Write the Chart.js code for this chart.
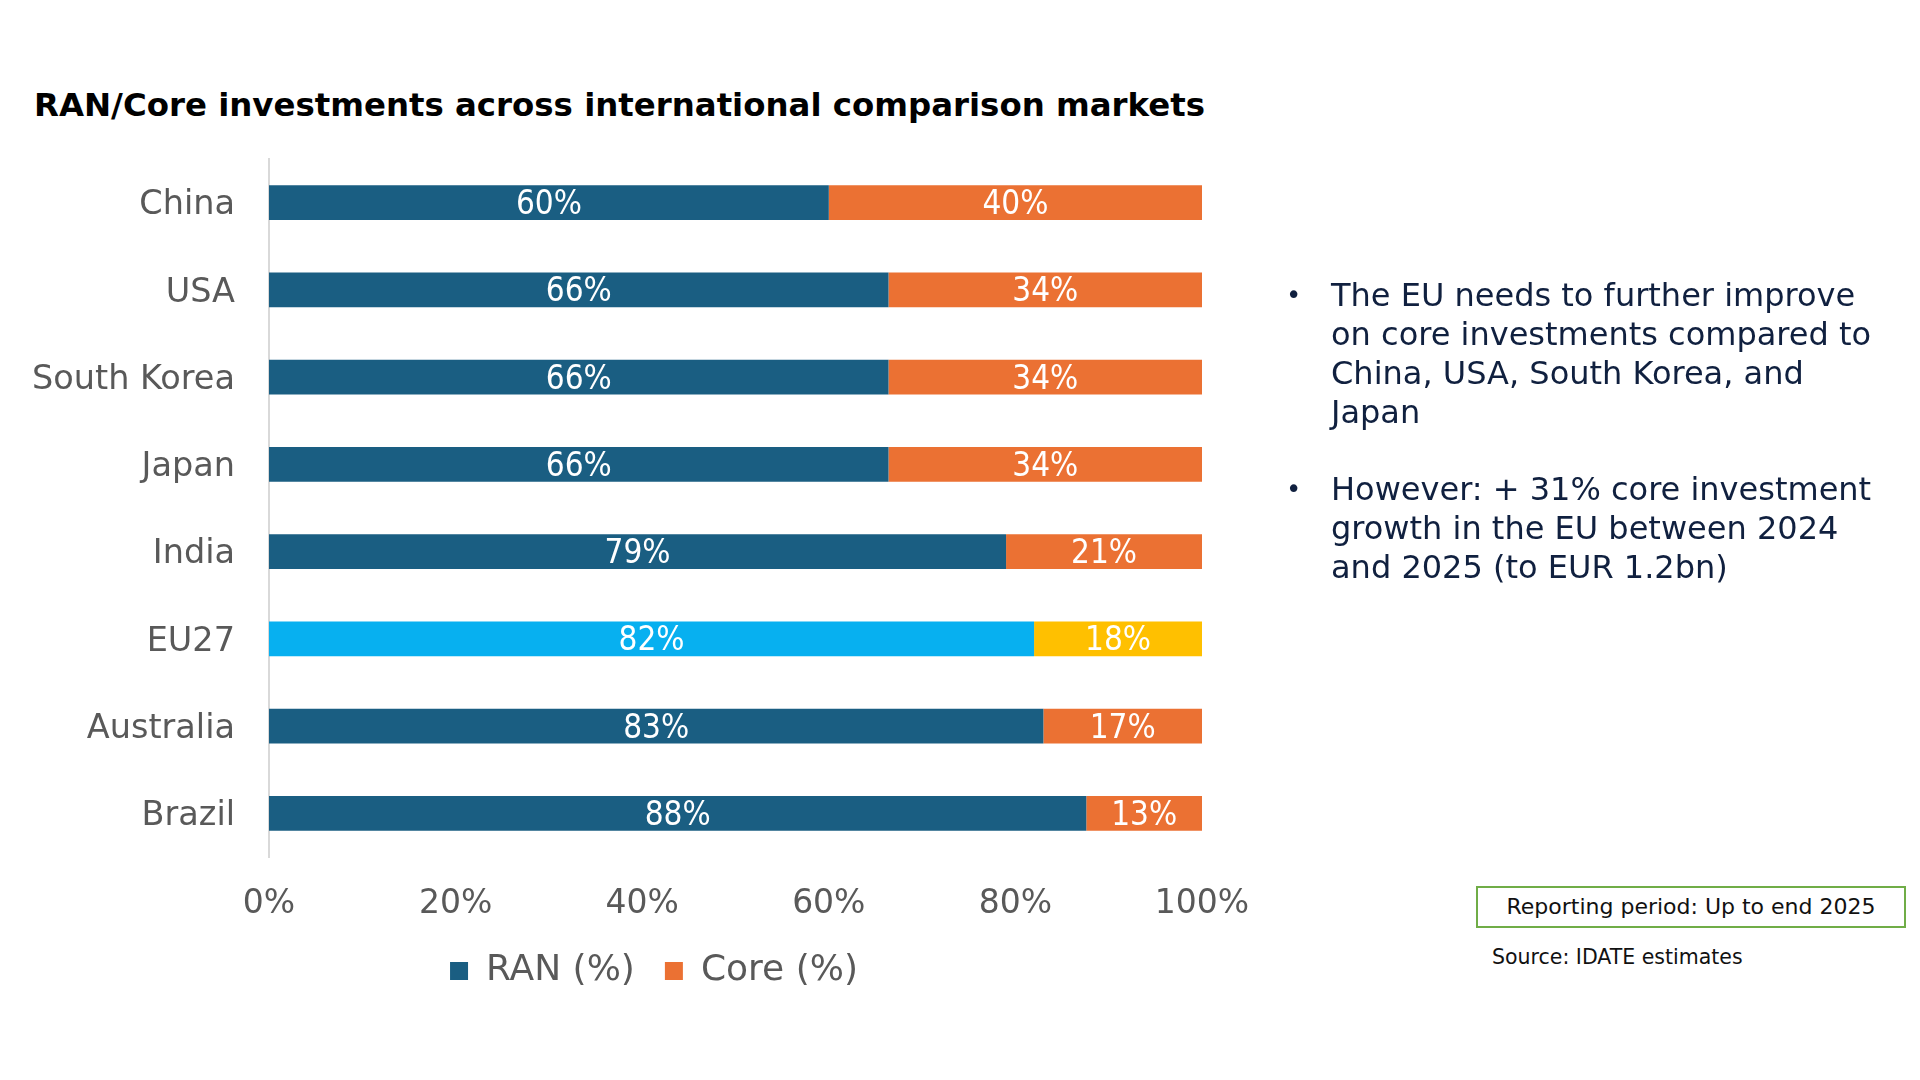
<!DOCTYPE html>
<html>
<head>
<meta charset="utf-8">
<script src="https://cdn.jsdelivr.net/npm/chart.js@4.4.1/dist/chart.umd.min.js"></script>
<style>
  html, body { margin: 0; padding: 0; background: #fff; }
  body { width: 1920px; height: 1080px; position: relative; overflow: hidden; font-family: "DejaVu Sans", Verdana, sans-serif; }
  #title { position: absolute; left: 34px; top: 88px; font-size: 32.4px; font-weight: bold; color: #000; line-height: 34px; white-space: nowrap; }
  #chartBox { position: absolute; left: 0; top: 0; width: 1304px; height: 999px; }
  .bullet { position: absolute; left: 1286px; font-size: 32px; line-height: 39px; color: #10203f; }
  .bullet .dot { position: absolute; left: 0; top: 0; font-size: 26px; }
  .bullet .txt { position: absolute; left: 45px; top: 0; white-space: nowrap; }
  #period { position: absolute; left: 1476px; top: 886px; width: 426px; height: 38px; border: 2px solid #70ad47; font-size: 22px; line-height: 38px; text-align: center; color: #111; }
  #source { position: absolute; left: 1492px; top: 945px; font-size: 20.5px; color: #111; white-space: nowrap; }
</style>
</head>
<body>
<div id="title">RAN/Core investments across international comparison markets</div>
<div id="chartBox"><canvas id="chartInvest" width="1304" height="999"></canvas></div>

<div class="bullet" style="top:276px;">
  <span class="dot">•</span>
  <span class="txt">The EU needs to further improve<br>on core investments compared to<br>China, USA, South Korea, and<br>Japan</span>
</div>
<div class="bullet" style="top:470px;">
  <span class="dot">•</span>
  <span class="txt">However: + 31% core investment<br>growth in the EU between 2024<br>and 2025 (to EUR 1.2bn)</span>
</div>

<div id="period">Reporting period: Up to end 2025</div>
<div id="source">Source: IDATE estimates</div>

<script>
// Dados do gráfico (rótulos arredondados)
const paises = ['China', 'USA', 'South Korea', 'Japan', 'India', 'EU27', 'Australia', 'Brazil'];
const ranPct = [60, 66.4, 66.4, 66.4, 79, 82, 83, 87.6];
const corePct = [40, 33.6, 33.6, 33.6, 21, 18, 17, 12.5];
const ticksX = [0, 20, 40, 60, 80, 100];
const destaque = 'EU27';

// Cores
const corRan = '#1a5e82';
const corCore = '#eb7133';
const corRanDestaque = '#07b0f0';
const corCoreDestaque = '#ffc000';
const corTexto = '#595959';

Chart.defaults.font.family = '"DejaVu Sans", Verdana, sans-serif';
Chart.defaults.color = corTexto;

// rótulos brancos no meio de cada segmento
const rotulosBarras = {
    id: 'rotulosBarras',
    afterDatasetsDraw(chart) {
        const ctx = chart.ctx;
        ctx.save();
        ctx.font = '33px "DejaVu Sans Condensed", "Liberation Sans Narrow", "DejaVu Sans", sans-serif';
        ctx.fillStyle = '#ffffff';
        ctx.textAlign = 'center';
        ctx.textBaseline = 'middle';
        chart.data.datasets.forEach((ds, i) => {
            chart.getDatasetMeta(i).data.forEach((bar, j) => {
                const x = (bar.x + Math.min(bar.base, chart.chartArea.right)) / 2;
                const xFim = Math.min(bar.x, chart.chartArea.right);
                ctx.fillText(Math.round(ds.data[j]) + '%', (xFim + bar.base) / 2, bar.y + 3);
            });
        });
        ctx.restore();
    }
};

// legenda centrada um pouco mais à direita, como no original
const deslocaLegenda = {
    id: 'deslocaLegenda',
    afterLayout(chart) {
        chart.legend.left += 53;
        chart.legend.right += 53;
    }
};

const ctx = document.getElementById('chartInvest').getContext('2d');
new Chart(ctx, {
    type: 'bar',
    data: {
        labels: paises,
        datasets: [
            {
                label: 'RAN (%)',
                data: ranPct,
                backgroundColor: paises.map(p => p === destaque ? corRanDestaque : corRan),
                barPercentage: 0.4,
                categoryPercentage: 1.0
            },
            {
                label: 'Core (%)',
                data: corePct,
                backgroundColor: paises.map(p => p === destaque ? corCoreDestaque : corCore),
                barPercentage: 0.4,
                categoryPercentage: 1.0
            }
        ]
    },
    options: {
        indexAxis: 'y',
        responsive: false,
        animation: false,
        devicePixelRatio: 1,
        layout: { padding: { top: 159, right: 102, left: 0, bottom: 0 } },
        scales: {
            x: {
                stacked: true,
                min: 0,
                max: 100,
                afterBuildTicks: (axis) => { axis.ticks = ticksX.map(v => ({ value: v })); },
                afterFit: (axis) => { axis.height = 66; },
                grid: { display: false, drawTicks: false },
                border: { display: false },
                ticks: {
                    padding: 28,
                    font: { size: 33 },
                    color: corTexto,
                    callback: v => v + '%'
                }
            },
            y: {
                stacked: true,
                afterFit: (axis) => { axis.width = 269; },
                grid: { display: false, drawTicks: false },
                border: { display: true, color: '#d9d9d9', width: 2 },
                ticks: {
                    padding: 34,
                    labelOffset: 3,
                    font: { size: 33.5 },
                    color: corTexto
                }
            }
        },
        plugins: {
            tooltip: { enabled: false },
            legend: {
                display: true,
                position: 'bottom',
                labels: {
                    boxWidth: 18,
                    boxHeight: 18,
                    padding: 30,
                    font: { size: 36 },
                    color: corTexto,
                    generateLabels: () => [
                        { text: 'RAN (%)', fillStyle: corRan, strokeStyle: corRan, fontColor: corTexto, lineWidth: 0, datasetIndex: 0 },
                        { text: 'Core (%)', fillStyle: corCore, strokeStyle: corCore, fontColor: corTexto, lineWidth: 0, datasetIndex: 1 }
                    ]
                }
            }
        }
    },
    plugins: [rotulosBarras, deslocaLegenda]
});
</script>
</body>
</html>
